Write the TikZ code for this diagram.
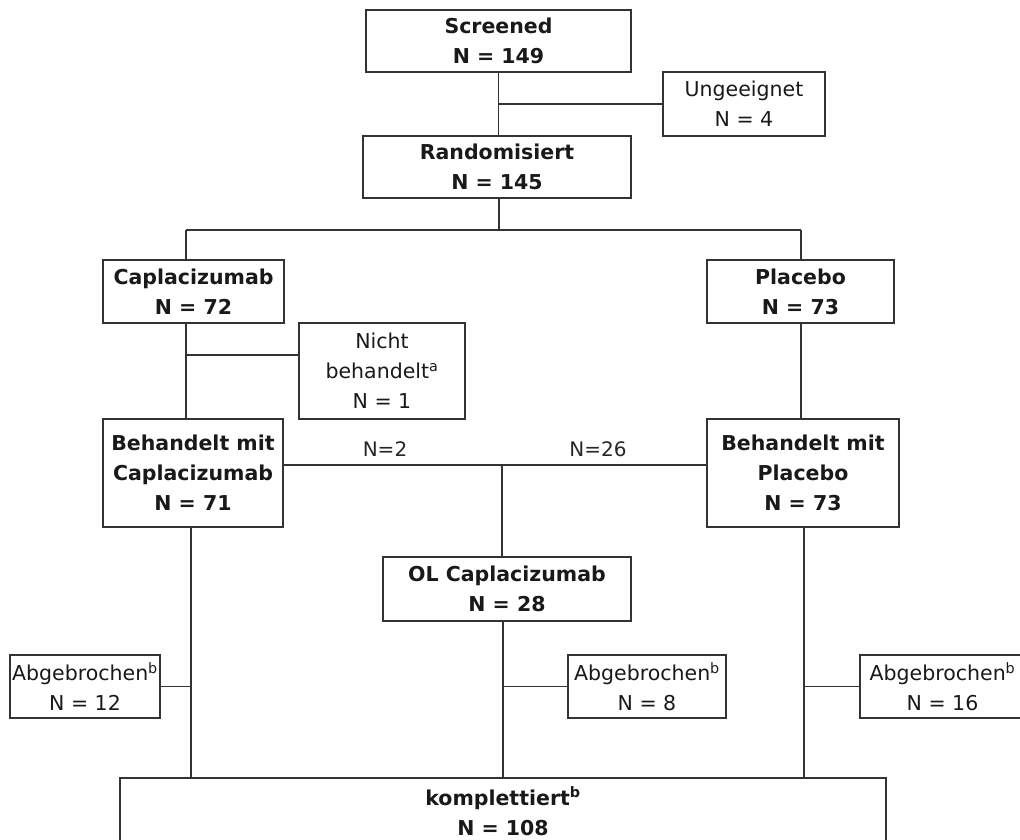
\documentclass[tikz,border=0pt]{standalone}
\usepackage{fontspec}
\setmainfont{DejaVu Sans}
\begin{document}
\begin{tikzpicture}[x=1pt,y=-1pt,
  box/.style={draw=black!80, line width=1.7pt, inner sep=0pt, align=center,
    font=\fontsize{20.5}{30}\selectfont, text=black!90},
  bbox/.style={box, font=\fontsize{20.5}{30}\selectfont\bfseries},
  conn/.style={draw=black!80, line width=1.7pt},
  lab/.style={font=\fontsize{20}{24}\selectfont, text=black!85, inner sep=0pt}]
\useasboundingbox (0,0) rectangle (1020,839);
\clip (0,0) rectangle (1020,839);

\node[bbox, minimum width=265pt, minimum height=62pt] (scr) at (498.5,41) {Screened\\N = 149};
\node[box, minimum width=162pt, minimum height=64pt] (ung) at (744,104) {Ungeeignet\\N = 4};
\node[bbox, minimum width=268pt, minimum height=62pt] (ran) at (497,167) {Randomisiert\\N = 145};
\node[bbox, minimum width=181pt, minimum height=63pt] (cap) at (193.5,291.5) {Caplacizumab\\N = 72};
\node[bbox, minimum width=187pt, minimum height=63pt] (pla) at (800.5,291.5) {Placebo\\N = 73};
\node[box, minimum width=166pt, minimum height=96pt] (nb) at (382,371) {Nicht\\behandelt\textsuperscript{a}\\N = 1};
\node[bbox, minimum width=180pt, minimum height=108pt] (bcap) at (193,473) {Behandelt mit\\Caplacizumab\\N = 71};
\node[bbox, minimum width=192pt, minimum height=108pt] (bpla) at (803,473) {Behandelt mit\\Placebo\\N = 73};
\node[bbox, minimum width=248pt, minimum height=64pt] (ol) at (507,589) {OL Caplacizumab\\N = 28};
\node[box, minimum width=150pt, minimum height=63pt] (ab1) at (85,686.5) {Abgebrochen\textsuperscript{b}\\N = 12};
\node[box, minimum width=158pt, minimum height=63pt] (ab2) at (647,686.5) {Abgebrochen\textsuperscript{b}\\N = 8};
\node[box, minimum width=165pt, minimum height=63pt] (ab3) at (942.5,686.5) {Abgebrochen\textsuperscript{b}\\N = 16};
\node[bbox, minimum width=766pt, minimum height=66pt] (kom) at (503,811) {komplettiert\textsuperscript{b}\\N = 108};

% top
\draw[conn] (scr.south) -- (scr.south |- ran.north);
\draw[conn] (scr.south |- ung.west) -- (ung.west);

% split
\coordinate (sp) at (499,230);
\coordinate (spl) at (186,230);
\coordinate (spr) at (801,230);
\draw[conn] (ran.south -| sp) -- (sp);
\draw[conn] (spl) -- (spr);
\draw[conn] (spl) -- (spl |- cap.north);
\draw[conn] (spr) -- (spr |- pla.north);

% arms
\coordinate (nbj) at (186,355);
\draw[conn] (spl |- cap.south) -- (spl |- bcap.north);
\draw[conn] (nbj) -- (nbj -| nb.west);
\draw[conn] (spr |- pla.south) -- (spr |- bpla.north);

% crossover
\coordinate (mid) at (502,465);
\draw[conn] (bcap.east |- mid) -- (bpla.west |- mid);
\draw[conn] (mid) -- (mid |- ol.north);
\node[lab] (n2) at (385,449) {N=2};
\node[lab] (n26) at (598,449) {N=26};

% bottom verticals
\coordinate (lx) at (191,686.5);
\coordinate (mx) at (503,686.5);
\coordinate (rx) at (804,686.5);
\draw[conn] (lx |- bcap.south) -- (lx |- kom.north);
\draw[conn] (mx |- ol.south) -- (mx |- kom.north);
\draw[conn] (rx |- bpla.south) -- (rx |- kom.north);
\draw[conn] (ab1.east) -- (lx);
\draw[conn] (ab2.west) -- (mx);
\draw[conn] (ab3.west) -- (rx);
\end{tikzpicture}
\end{document}
